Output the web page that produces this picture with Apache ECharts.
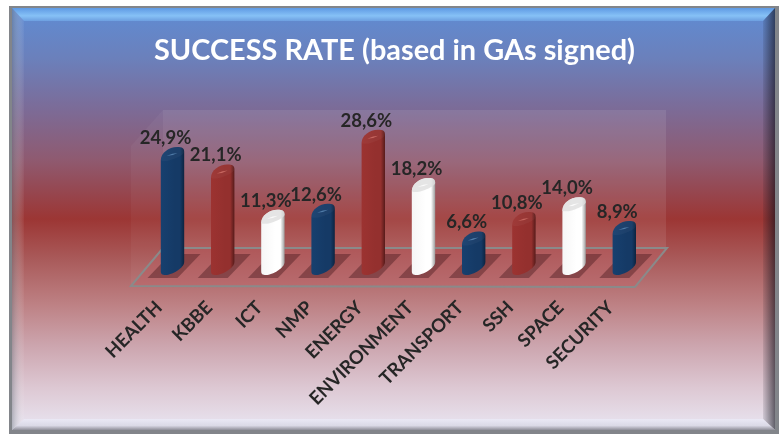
<!DOCTYPE html>
<html><head><meta charset="utf-8">
<style>html,body{margin:0;padding:0;background:#fff}#c{width:779px;height:434px}</style>
<script src="https://cdn.jsdelivr.net/npm/echarts@6/dist/echarts.min.js"></script>
</head><body><div id="c"></div>
<script>
const categories = ['HEALTH','KBBE','ICT','NMP','ENERGY','ENVIRONMENT','TRANSPORT','SSH','SPACE','SECURITY'];
const successRate = [24.9,21.1,11.3,12.6,28.6,18.2,6.6,10.8,14.0,8.9];
const titleText = 'SUCCESS RATE (based in GAs signed)';
const palette = [
  {dark:'#0d2440',mid:'#153a66',light:'#17406f',cap:'rgba(120,170,215,0.55)'},
  {dark:'#571b1a',mid:'#94302e',light:'#9c3331',cap:'rgba(235,140,130,0.55)'},
  {dark:'#9c9c9c',mid:'#ffffff',light:'#f6f6f6',cap:'rgba(255,255,255,0.8)'}
];
const bgStops = [
  [0,'#5f8cd4'],[0.12,'#6b80bb'],[0.24,'#7c6b97'],[0.36,'#8f5a70'],[0.5,'#9c3634'],
  [0.6,'#aa5c5c'],[0.7,'#bd8083'],[0.8,'#cca5ae'],[0.9,'#ddc8d3'],[1,'#e9e6f2']
].map(s=>({offset:s[0],color:s[1]}));
const vgrad = (stops)=>({type:'linear',x:0,y:0,x2:0,y2:1,colorStops:stops});
const hgrad = (stops)=>({type:'linear',x:0,y:0,x2:1,y2:0,colorStops:stops});
const poly = (pts,style,extra)=>Object.assign({type:'polygon',silent:true,shape:{points:pts},style},extra||{});

function renderBar(params,api){
  const i = api.value(0), v = api.value(1);
  const top = api.coord([i,v]), base = api.coord([i,0]);
  const hw = 11.7, cx = top[0], xl = cx-hw, xr = cx+hw;
  const yt = top[1], yb = base[1];
  const tone = palette[i%3];
  const topEdge = `M${xl} ${yt+13} C${xl} ${yt+6} ${xl+8} ${yt} ${xr-7} ${yt} C${xr-2} ${yt} ${xr} ${yt+1} ${xr} ${yt+5}`;
  const body = topEdge
    + ` L${xr} ${yb} C${xr} ${yb+6} ${xl+11} ${yb+13} ${xl+5} ${yb+13} C${xl+1} ${yb+13} ${xl} ${yb+12} ${xl} ${yb+9} Z`;
  const cap = topEdge
    + ` C${xr} ${yt+8} ${xl+10} ${yt+14} ${xl+5} ${yt+14} C${xl+2} ${yt+14} ${xl} ${yt+14} ${xl} ${yt+13} Z`;
  const glintY = yt+8;
  return {type:'group',children:[
    poly([[cx-25,yb+16],[cx-2,yb-8],[cx+28,yb-8],[cx+5,yb+16]],{fill:'rgba(70,25,28,0.42)'}),
    {type:'path',shape:{pathData:body},style:{fill:hgrad([
      {offset:0,color:tone.light},{offset:0.6,color:tone.mid},{offset:0.82,color:tone.mid},{offset:1,color:tone.dark}])}},
    {type:'path',shape:{pathData:cap},style:{fill:i%3===2?'rgba(222,222,222,0.8)':'rgba(255,255,255,0.035)'}},
    {type:'path',shape:{pathData:`M${cx-6} ${glintY+1} Q${cx} ${glintY-2} ${cx+5} ${glintY-2} Q${cx} ${glintY+1} ${cx-6} ${glintY+1} Z`},
      style:{fill:tone.cap}},
    {type:'text',style:{text:v.toFixed(1).replace('.',',')+'%',x:cx-7,y:yt-9,align:'center',verticalAlign:'middle',
      fill:'#262626',font:'bold 18.5px Lato'}}
  ]};
}

const chart = echarts.init(document.getElementById('c'),null,{renderer:'canvas'});
chart.setOption({
  animation:false,
  title:{text:titleText,left:389.5,top:31,textAlign:'center',
    textStyle:{color:'#fff',fontFamily:'Lato',fontWeight:'bold',fontSize:28.9}},
  grid:{left:147.4,width:502,top:123.4,height:138.6},
  xAxis:{type:'category',data:categories,axisLine:{show:false},axisTick:{show:false},
    axisLabel:{interval:0,rotate:45,margin:29,padding:[0,19,0,0],color:'#262626',fontFamily:'Lato',fontWeight:'bold',fontSize:18.5}},
  yAxis:{type:'value',min:0,max:30,show:false},
  graphic:{elements:[
    {type:'rect',silent:true,z:-10,shape:{x:9,y:6,width:770,height:428},style:{fill:'#82858a'}},
    {type:'rect',silent:true,z:-9,shape:{x:12,y:8,width:763,height:422},style:{fill:vgrad(bgStops)}},
    poly([[12,8],[775,8],[763,21],[24,21]],{fill:vgrad([{offset:0,color:'#5f9ae4'},{offset:0.6,color:'#86c1f6'},{offset:1,color:'#6d9fe0'}])},{z:-8}),
    poly([[12,8],[24,21],[24,419],[12,430]],{fill:hgrad([{offset:0,color:'rgba(110,120,130,0.45)'},{offset:1,color:'rgba(255,255,255,0.04)'}])},{z:-8}),
    poly([[775,8],[763,21],[763,419],[775,430]],{fill:hgrad([{offset:0,color:'rgba(20,20,30,0.10)'},{offset:1,color:'rgba(15,15,25,0.62)'}])},{z:-8}),
    poly([[12,430],[24,419],[763,419],[775,430]],{fill:vgrad([{offset:0,color:'rgba(235,235,248,0.8)'},{offset:0.6,color:'rgba(215,215,228,0.8)'},{offset:1,color:'rgba(120,120,130,0.8)'}])},{z:-8}),
    poly([[163,110],[666,110],[666,248],[163,248]],{fill:'rgba(255,255,255,0.09)'},{z:-7}),
    poly([[131,146],[163,110],[163,248],[131,286]],{fill:'rgba(255,255,255,0.04)'},{z:-7}),
    poly([[131,286],[163,248],[667,248],[635,287]],{fill:'rgba(190,100,105,0.4)',stroke:'#8a8a8a',lineWidth:2},{z:-6})
  ]},
  series:[{type:'custom',renderItem:renderBar,encode:{x:0,y:1},clip:false,
    data:successRate.map((v,i)=>[i,v])}]
});
</script></body></html>
